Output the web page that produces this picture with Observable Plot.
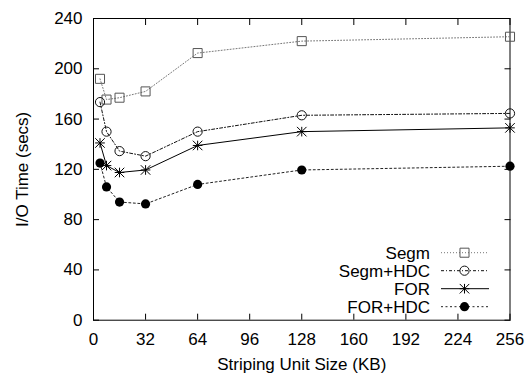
<!DOCTYPE html>
<html><head><meta charset="utf-8">
<script src="https://cdn.jsdelivr.net/npm/d3@7"></script>
<script src="https://cdn.jsdelivr.net/npm/@observablehq/plot@0.6"></script>
<style>body{margin:0;background:#fff}</style>
</head><body><div id="chart"></div>
<script>
const sizes = [4, 8, 16, 32, 64, 128, 256];
const segm = [192, 175.5, 177, 182, 212.5, 222, 225.5];
const segmHdc = [173.5, 150, 134.5, 130.5, 150, 163, 164.5];
const forVals = [141, 123, 117.5, 119.5, 139, 150, 153];
const forHdc = [125, 106, 94, 92.5, 108, 119.5, 122.5];
const seriesNames = ["Segm", "Segm+HDC", "FOR", "FOR+HDC"];
const seriesValues = [segm, segmHdc, forVals, forHdc];
const xTicks = [0, 32, 64, 96, 128, 160, 192, 224, 256];
const yTicks = [0, 40, 80, 120, 160, 200, 240];

const styles = {
  "Segm": {line: "#777", dash: "1,2", mark: "#555"},
  "Segm+HDC": {line: "#111", dash: "3,2,1,2", mark: "#111"},
  "FOR": {line: "#000", dash: null, mark: "#000"},
  "FOR+HDC": {line: "#222", dash: "2,2.5", mark: "#000"}
};

const rows = seriesNames.flatMap((s, i) => sizes.map((x, j) => ({series: s, size: x, time: seriesValues[i][j]})));
const bySeries = s => rows.filter(d => d.series === s);

const font = "'Liberation Sans', Arial, Helvetica, sans-serif";
const fs = 17;

const marks = [
  Plot.frame({stroke: "#000", strokeWidth: 1}),
  Plot.axisX({ticks: xTicks, tickSize: -6, tickPadding: 19, label: null}),
  Plot.axisX({anchor: "top", ticks: xTicks, tickSize: -6, tickFormat: () => "", label: null}),
  Plot.axisY({ticks: yTicks, tickSize: -6, tickPadding: 17, label: null}),
  Plot.axisY({anchor: "right", ticks: yTicks, tickSize: -6, tickFormat: () => "", label: null}),
  ...seriesNames.map(s => Plot.line(bySeries(s), {x: "size", y: "time", stroke: styles[s].line, strokeWidth: 1, strokeDasharray: styles[s].dash})),
  Plot.dot(bySeries("Segm"), {x: "size", y: "time", symbol: "square", r: 5.1, stroke: styles["Segm"].mark, fill: "none", strokeWidth: 1}),
  Plot.dot(bySeries("Segm+HDC"), {x: "size", y: "time", symbol: "circle", r: 4.6, stroke: styles["Segm+HDC"].mark, fill: "none", strokeWidth: 1}),
  Plot.dot(bySeries("FOR"), {x: "size", y: "time", symbol: "times", r: 4.4, stroke: "#000", strokeWidth: 1}),
  Plot.dot(bySeries("FOR"), {x: "size", y: "time", symbol: "plus", r: 3.2, stroke: "#000", strokeWidth: 1}),
  Plot.dot(bySeries("FOR+HDC"), {x: "size", y: "time", symbol: "circle", r: 4.6, fill: "#000", stroke: "none"}),
  Plot.text(["I/O Time (secs)"], {frameAnchor: "left", rotate: -90, dx: -71, textAnchor: "middle", lineAnchor: "middle", fontSize: fs}),
  Plot.text(["Striping Unit Size (KB)"], {frameAnchor: "bottom", dy: 44, textAnchor: "middle", lineAnchor: "middle", fontSize: fs})
];

const chart = Plot.plot({
  width: 529, height: 375,
  marginLeft: 93, marginRight: 19.5, marginTop: 18, marginBottom: 55.3,
  x: {domain: [0, 256]},
  y: {domain: [0, 240]},
  style: {fontSize: fs + "px", fontFamily: font, color: "#000", background: "#fff"},
  marks
});

// legend inside the plot area (bottom-right), drawn with d3 into the same svg
const svg = d3.select(chart);
const xs = chart.scale("x"), ys = chart.scale("y");
const right = xs.apply(256), bottom = ys.apply(0);
const lg = svg.append("g").attr("font-family", font).attr("font-size", fs);
seriesNames.forEach((s, i) => {
  const cy = bottom - 13 - (seriesNames.length - 1 - i) * 18;
  const tx = right - 79.5, l1 = right - 68.5, l2 = right - 20.5, mx = right - 45;
  lg.append("text").attr("x", tx).attr("y", cy).attr("dy", "0.35em").attr("text-anchor", "end").attr("fill", "#000").text(s);
  lg.append("line").attr("x1", l1).attr("x2", l2).attr("y1", cy).attr("y2", cy)
    .attr("stroke", styles[s].line).attr("stroke-width", 1).attr("stroke-dasharray", styles[s].dash);
  const g = lg.append("g").attr("transform", `translate(${mx},${cy})`);
  if (s === "Segm") g.append("path").attr("d", d3.symbol(d3.symbolSquare, 5.1 * 5.1 * Math.PI)()).attr("fill", "none").attr("stroke", styles[s].mark);
  if (s === "Segm+HDC") g.append("path").attr("d", d3.symbol(d3.symbolCircle, 4.6 * 4.6 * Math.PI)()).attr("fill", "none").attr("stroke", styles[s].mark);
  if (s === "FOR") {
    g.append("path").attr("d", d3.symbol(d3.symbolTimes, 4.4 * 4.4 * Math.PI)()).attr("fill", "none").attr("stroke", "#000");
    g.append("path").attr("d", d3.symbol(d3.symbolPlus, 3.2 * 3.2 * Math.PI)()).attr("fill", "none").attr("stroke", "#000");
  }
  if (s === "FOR+HDC") g.append("path").attr("d", d3.symbol(d3.symbolCircle, 4.6 * 4.6 * Math.PI)()).attr("fill", "#000");
});

document.getElementById("chart").append(chart);
</script>
</body></html>
